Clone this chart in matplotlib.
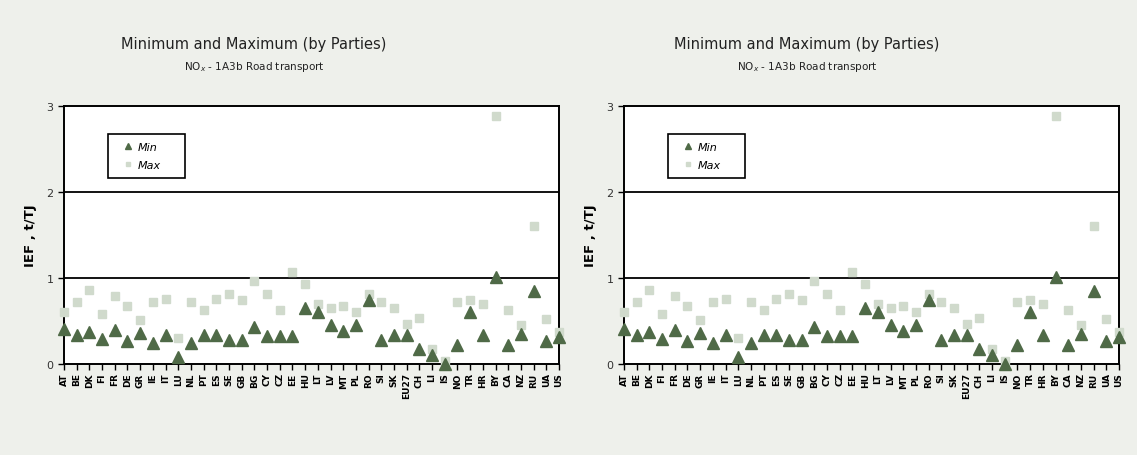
import matplotlib
matplotlib.use("Agg")
from matplotlib import pyplot as plt
import numpy as np

parties = ['AT', 'BE', 'DK', 'FI', 'FR', 'DE', 'GR', 'IE', 'IT', 'LU',
           'NL', 'PT', 'ES', 'SE', 'GB', 'BG', 'CY', 'CZ', 'EE', 'HU',
           'LT', 'LV', 'MT', 'PL', 'RO', 'SI', 'SK', 'EU27', 'CH', 'LI',
           'IS', 'NO', 'TR', 'HR', 'BY', 'CA', 'NZ', 'RU', 'UA', 'US']
ief_min = [0.41, 0.34, 0.37, 0.29, 0.40, 0.27, 0.36, 0.25, 0.34, 0.08,
           0.25, 0.34, 0.34, 0.28, 0.28, 0.43, 0.32, 0.33, 0.33, 0.65,
           0.61, 0.45, 0.38, 0.45, 0.75, 0.28, 0.34, 0.34, 0.18, 0.11,
           0.00, 0.22, 0.61, 0.34, 1.01, 0.22, 0.35, 0.85, 0.27, 0.31]
ief_max = [0.61, 0.72, 0.86, 0.58, 0.79, 0.67, 0.51, 0.72, 0.76, 0.30,
           0.72, 0.63, 0.76, 0.81, 0.74, 0.96, 0.81, 0.63, 1.07, 0.93,
           0.70, 0.65, 0.67, 0.61, 0.81, 0.72, 0.65, 0.47, 0.53, 0.18,
           0.03, 0.72, 0.74, 0.70, 2.88, 0.63, 0.45, 1.60, 0.52, 0.37]

title = 'Minimum and Maximum (by Parties)'
subtitle = r'NO$_x$ - 1A3b Road transport'

bg = '#eef0eb'
c_min = '#4f6a47'
c_max = '#d0dacc'

fig = plt.figure(figsize=(11.37, 4.56), dpi=100, facecolor=bg)

x = np.arange(len(parties))
for left, tx in [(64, 254), (624, 807)]:
    ax = fig.add_axes([left / 1137, 1 - 365 / 456, 495 / 1137, 258 / 456])
    ax.set_facecolor('white')
    ax.plot(x, ief_max, linestyle='none', marker='s', ms=6, color=c_max,
            label='Max', clip_on=False, zorder=3)
    ax.plot(x, ief_min, linestyle='none', marker='^', ms=9, color=c_min,
            label='Min', clip_on=False, zorder=4)
    ax.set_xlim(0, len(parties) - 1)
    ax.set_ylim(0, 3)
    ax.set_yticks([0, 1, 2, 3])
    for v in [1, 2]:
        ax.axhline(v, color='black', lw=1.3, zorder=1)
    for s in ax.spines.values():
        s.set_color('black')
        s.set_linewidth(1.4)
    ax.set_xticks(x)
    ax.set_xticklabels(parties, rotation=90, fontsize=6.5, fontweight='bold')
    ax.tick_params(axis='x', length=4, width=1, pad=2)
    ax.tick_params(axis='y', length=4, width=1, labelsize=8, labelcolor='#333333')
    ax.set_ylabel('IEF , t/TJ', fontsize=9.5, fontweight='bold', labelpad=7)
    h, l = ax.get_legend_handles_labels()
    leg = ax.legend([h[1], h[0]], [l[1], l[0]], loc='upper left',
                    bbox_to_anchor=(44 / 495, (365 - 182) / 258, 77 / 495, 47 / 258),
                    mode='expand', fancybox=False,
                    edgecolor='black', framealpha=1, markerscale=0.55,
                    handlelength=2.2, handletextpad=-0.2, borderpad=0.7,
                    labelspacing=0.75, prop={'size': 8, 'style': 'italic'},
                    borderaxespad=0)
    leg.get_frame().set_linewidth(1.2)
    fig.text(tx / 1137, 1 - 45 / 456, title, ha='center', va='center',
             fontsize=10.5, color='#222222')
    fig.text(tx / 1137, 1 - 67 / 456, subtitle, ha='center', va='center',
             fontsize=7.5, color='#222222')

fig.savefig('out.png', dpi=100, facecolor=bg)
